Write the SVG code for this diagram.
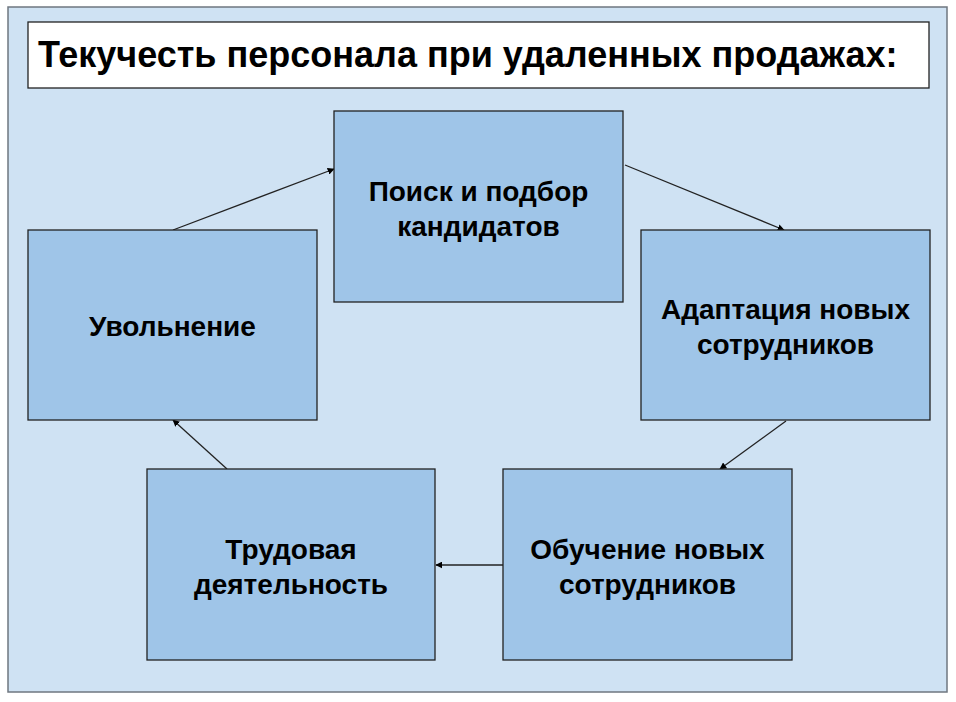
<svg xmlns="http://www.w3.org/2000/svg" width="956" height="702" viewBox="0 0 956 702">
<style>
.node rect{fill:#9fc5e8;stroke:#222;stroke-width:1.3}
.lbl{font-family:"Liberation Sans",Arial,sans-serif;font-weight:bold;font-size:28px;fill:#000;text-anchor:middle}
.conn line{stroke:#222;stroke-width:1.3;marker-end:url(#ah)}
</style>
<defs>
<marker id="ah" viewBox="0 0 10 10" refX="9" refY="5" markerWidth="7" markerHeight="7" markerUnits="userSpaceOnUse" orient="auto"><path d="M0,0 L10,5 L0,10 z" fill="#000"/></marker>
</defs>
<rect x="0" y="0" width="956" height="702" fill="#fff"/>
<rect id="frame" x="8" y="7" width="939" height="685" fill="#cfe2f3" stroke="#6f7780" stroke-width="1.5"/>
<g id="title">
<rect x="28" y="22" width="901" height="66" fill="#fff" stroke="#222" stroke-width="1.3"/>
<text x="38" y="67" font-family="'Liberation Sans',Arial,sans-serif" font-weight="bold" font-size="36" fill="#000">Текучесть персонала при удаленных продажах:</text>
</g>
<g id="connectors" class="conn">
<line x1="173" y1="230" x2="334" y2="169"/>
<line x1="625" y1="165" x2="784" y2="230"/>
<line x1="786" y1="421" x2="720" y2="469"/>
<line x1="503" y1="565" x2="436" y2="565"/>
<line x1="227" y1="469" x2="173" y2="420"/>
</g>
<g id="n-poisk" class="node">
<rect x="334" y="111" width="289" height="191"/>
<text class="lbl" x="478.5" y="201">Поиск и подбор</text>
<text class="lbl" x="478.5" y="236">кандидатов</text>
</g>
<g id="n-adapt" class="node">
<rect x="641" y="230" width="289" height="190"/>
<text class="lbl" x="785.5" y="319">Адаптация новых</text>
<text class="lbl" x="785.5" y="354">сотрудников</text>
</g>
<g id="n-obuch" class="node">
<rect x="503" y="469" width="289" height="191"/>
<text class="lbl" x="647.5" y="559">Обучение новых</text>
<text class="lbl" x="647.5" y="594">сотрудников</text>
</g>
<g id="n-trud" class="node">
<rect x="147" y="469" width="288" height="191"/>
<text class="lbl" x="291" y="559">Трудовая</text>
<text class="lbl" x="291" y="594">деятельность</text>
</g>
<g id="n-uvol" class="node">
<rect x="28" y="230" width="289" height="190"/>
<text class="lbl" x="172.5" y="336">Увольнение</text>
</g>
</svg>
